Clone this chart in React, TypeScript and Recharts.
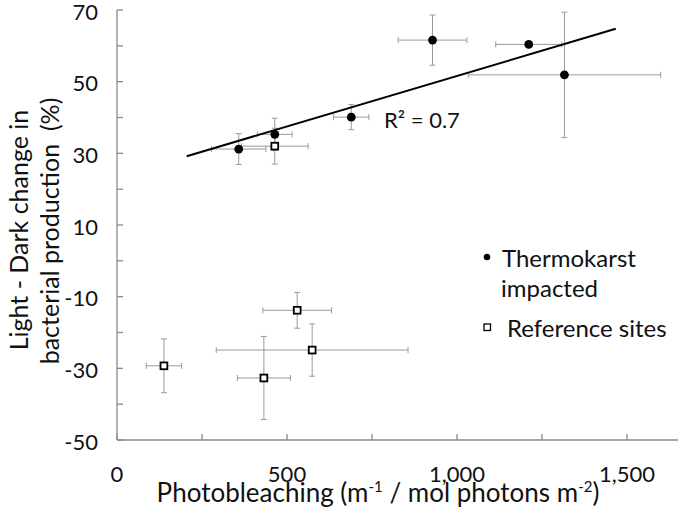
import React from "react";
import {
  ScatterChart,
  Scatter,
  XAxis,
  YAxis,
  ErrorBar,
  Customized,
} from "recharts";

// Thermokarst impacted sites
const thermoX = [358, 464, 689, 928, 1211, 1316];
const thermoY = [31.2, 35.3, 40.1, 61.6, 60.4, 51.9];
const thermoErrX = [80, 51, 52, 101, 97, 283];
const thermoErrY = [4.3, 4.5, 3.5, 7, 0, 17.5];

// Reference sites
const refX = [138, 432, 464, 530, 574];
const refY = [-29.3, -32.7, 32.0, -13.8, -24.9];
const refErrX = [52, 78, 98, 101, 282];
const refErrY = [7.5, 11.6, 5, 5, 7.3];

// trend line spans this x range
const trendRange = [205, 1467];

const xTicks = [0, 250, 500, 750, 1000, 1250, 1500];
const xLabels = [0, 500, 1000, 1500];
const yTicks = [-50, -40, -30, -20, -10, 0, 10, 20, 30, 40, 50, 60, 70];
const yLabels = [-50, -30, -10, 10, 30, 50, 70];

const FONT = "Lato, 'Open Sans', sans-serif";
const AXIS = "#8a8a8a";
const ERR = "#9a9a9a";

const thermoData = thermoX.map((x, i) => ({
  x,
  y: thermoY[i],
  ex: thermoErrX[i],
  ey: thermoErrY[i],
}));
const refData = refX.map((x, i) => ({
  x,
  y: refY[i],
  ex: refErrX[i],
  ey: refErrY[i],
}));

// least squares fit on the thermokarst points
const n = thermoX.length;
const mx = thermoX.reduce((s, v) => s + v, 0) / n;
const my = thermoY.reduce((s, v) => s + v, 0) / n;
let sxy = 0;
let sxx = 0;
thermoX.forEach((x, i) => {
  sxy += (x - mx) * (thermoY[i] - my);
  sxx += (x - mx) * (x - mx);
});
const slope = sxy / sxx;
const icpt = my - slope * mx;
const trendData = trendRange.map((x) => ({ x, y: icpt + slope * x }));

const XTick = ({ x, y, payload }: any) => (
  <g>
    <line x1={x} x2={x} y1={y} y2={y - 6} stroke={AXIS} strokeWidth={1.3} />
    {xLabels.includes(payload.value) && (
      <text
        x={x}
        y={y + 33}
        textAnchor="middle"
        dominantBaseline="central"
        fontFamily={FONT}
        fontSize={22}
        fill="#111"
      >
        {payload.value.toLocaleString("en-US")}
      </text>
    )}
  </g>
);

const YTick = ({ x, y, payload }: any) => (
  <g>
    <line x1={x} x2={x + 6} y1={y} y2={y} stroke={AXIS} strokeWidth={1.3} />
    {yLabels.includes(payload.value) && (
      <text
        x={x - 19}
        y={y + 1}
        textAnchor="end"
        dominantBaseline="central"
        fontFamily={FONT}
        fontSize={22}
        fill="#111"
      >
        {payload.value}
      </text>
    )}
  </g>
);

const Dot = ({ cx, cy }: any) => <circle cx={cx} cy={cy} r={4.4} fill="#000" />;
const Square = ({ cx, cy }: any) => (
  <rect x={cx - 3.4} y={cy - 3.4} width={6.8} height={6.8} fill="#fff" stroke="#000" strokeWidth={1.8} />
);

const Annotations = () => (
  <g fontFamily={FONT} fill="#111">
    <text x={384} y={119} fontSize={22} dominantBaseline="central">
      R² = 0.7
    </text>
    <circle cx={487} cy={257} r={3.3} fill="#000" />
    <text x={502} y={257} fontSize={24} dominantBaseline="central">
      Thermokarst
    </text>
    <text x={501} y={287} fontSize={24} dominantBaseline="central">
      impacted
    </text>
    <rect x={484} y={324} width={6.5} height={6.5} fill="#fff" stroke="#000" strokeWidth={1.3} />
    <text x={507} y={327} fontSize={24} dominantBaseline="central">
      Reference sites
    </text>
    <text
      transform="translate(18,230) rotate(-90)"
      textAnchor="middle"
      dominantBaseline="central"
      fontSize={25}
    >
      Light - Dark change in
    </text>
    <text
      transform="translate(49,231) rotate(-90)"
      textAnchor="middle"
      dominantBaseline="central"
      fontSize={25}
      style={{ whiteSpace: "pre" }}
    >
      bacterial production  (%)
    </text>
    <text x={378} y={502} textAnchor="middle" fontSize={26}>
      Photobleaching (m
      <tspan dy={-10} fontSize={15}>-1</tspan>
      <tspan dy={10}> / mol photons m</tspan>
      <tspan dy={-10} fontSize={15}>-2</tspan>
      <tspan dy={10}>)</tspan>
    </text>
  </g>
);

export default function App() {
  return (
    <div style={{ position: "absolute", left: 0, top: 0, background: "#fff" }}>
      <ScatterChart
        width={680}
        height={510}
        margin={{ top: 10, right: 2, bottom: 0, left: 0 }}
      >
        <XAxis
          type="number"
          dataKey="x"
          domain={[0, 1650]}
          ticks={xTicks}
          interval={0}
          tickSize={0}
          tickMargin={0}
          height={70}
          stroke={AXIS}
          strokeWidth={1.3}
          tick={<XTick />}
          allowDataOverflow
        />
        <YAxis
          type="number"
          dataKey="y"
          domain={[-50, 70]}
          ticks={yTicks}
          interval={0}
          tickSize={0}
          tickMargin={0}
          width={117}
          stroke={AXIS}
          strokeWidth={1.3}
          tick={<YTick />}
          allowDataOverflow
        />
        <Scatter
          data={trendData}
          line={{ stroke: "#000", strokeWidth: 2 }}
          shape={() => null}
          isAnimationActive={false}
        />
        <Scatter data={thermoData} shape={<Dot />} isAnimationActive={false}>
          <ErrorBar dataKey="ex" direction="x" stroke={ERR} strokeWidth={1} width={3} />
          <ErrorBar dataKey="ey" direction="y" stroke={ERR} strokeWidth={1} width={3} />
        </Scatter>
        <Scatter data={refData} shape={<Square />} isAnimationActive={false}>
          <ErrorBar dataKey="ex" direction="x" stroke={ERR} strokeWidth={1} width={3} />
          <ErrorBar dataKey="ey" direction="y" stroke={ERR} strokeWidth={1} width={3} />
        </Scatter>
        <Customized component={<Annotations />} />
      </ScatterChart>
    </div>
  );
}
